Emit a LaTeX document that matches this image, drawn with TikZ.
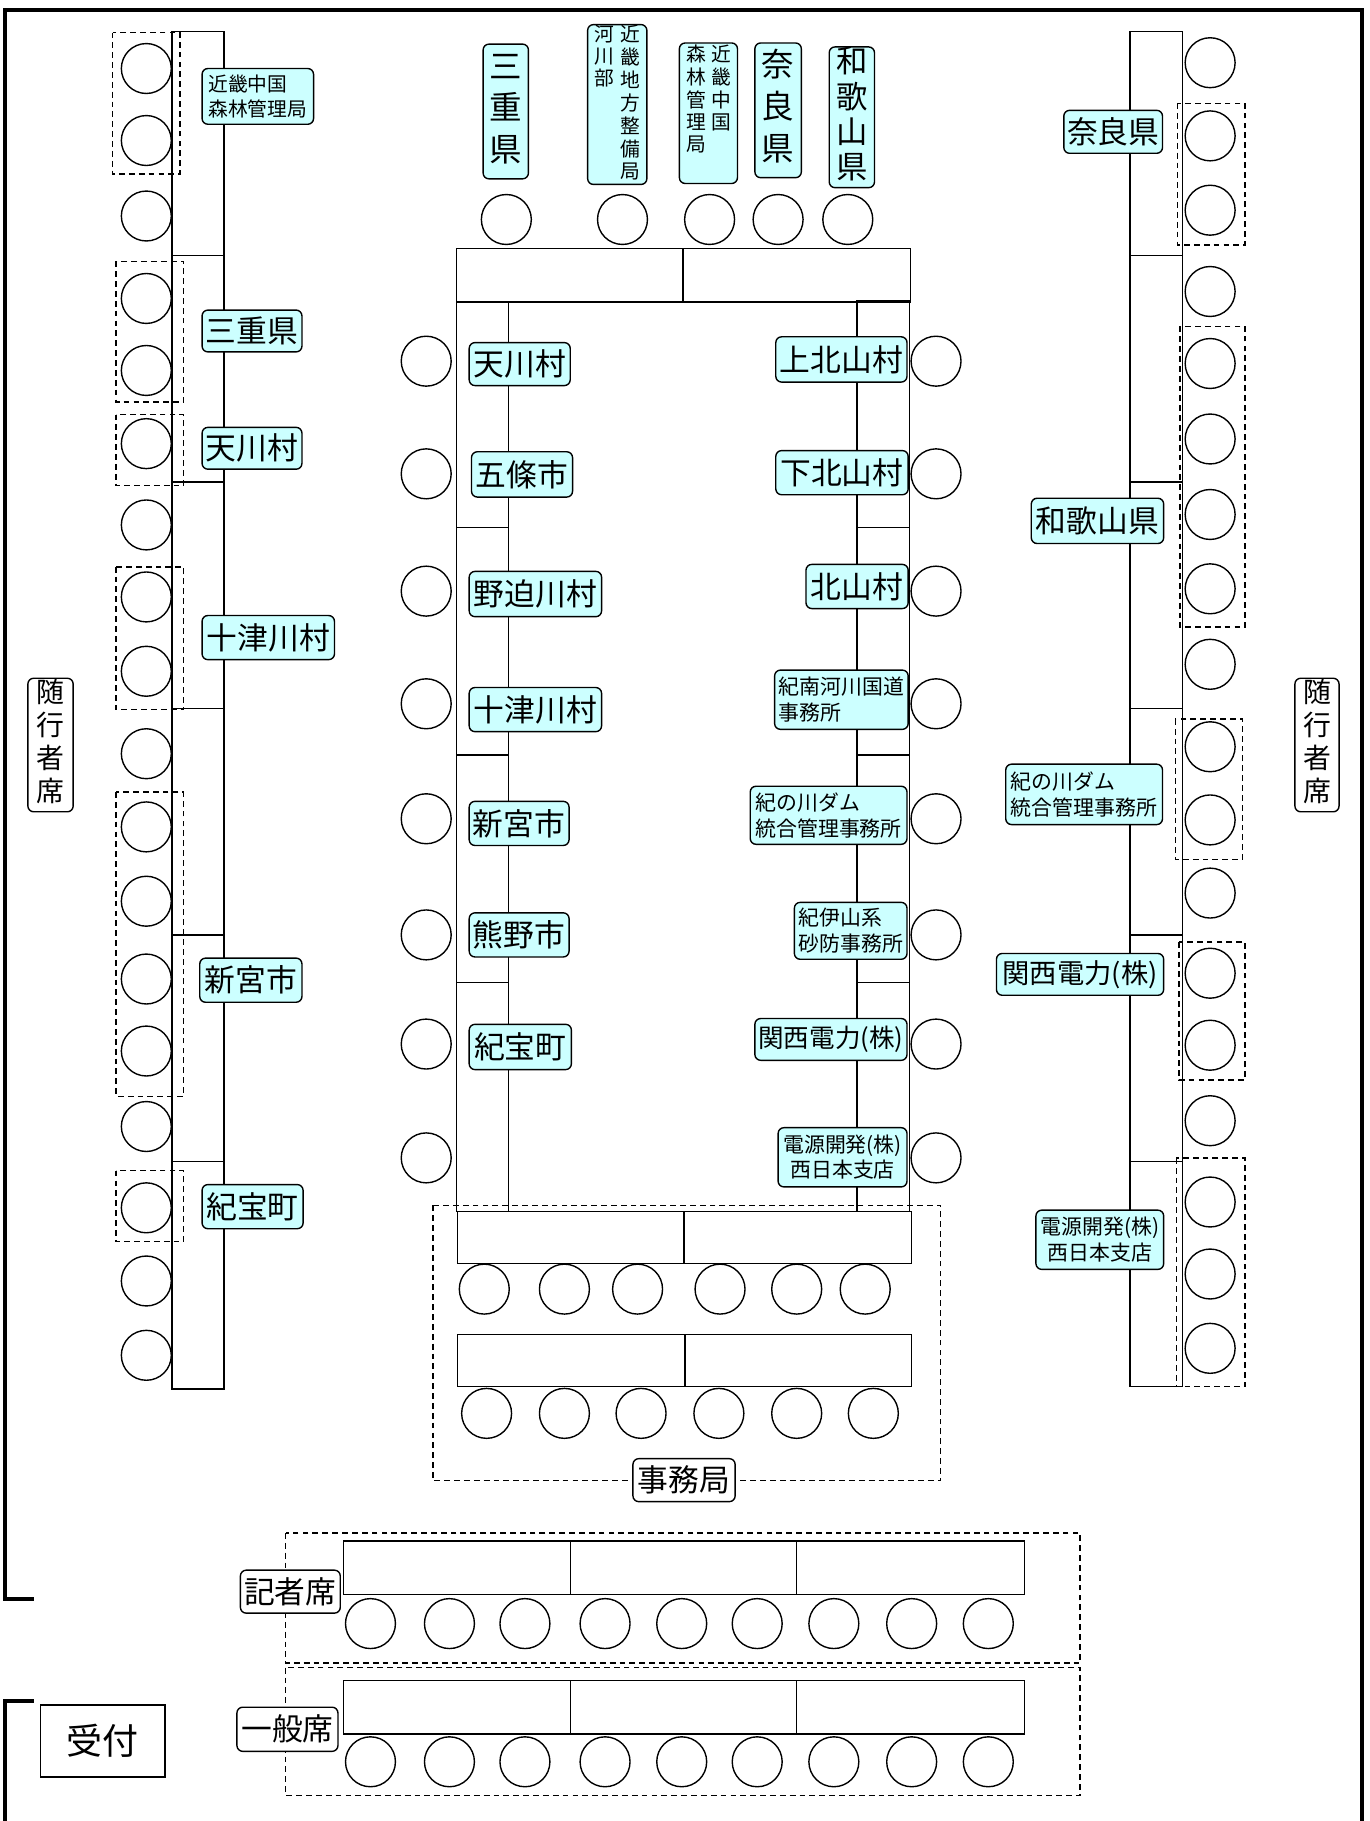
\documentclass[tikz,border=0pt]{standalone}
\usepackage{fontspec}
\newfontfamily\jp{Noto Sans CJK JP}
\definecolor{labfill}{HTML}{CCFFFF}
\newcommand\lb[7]{%
  \pgfmathsetmacro\lbW{#5-#3}\pgfmathsetmacro\lbH{#6-#4}%
  \pgfmathsetmacro\lbX{(#3+#5)/2}\pgfmathsetmacro\lbY{(#4+#6)/2}%
  \node[#1,minimum width=\lbW pt,minimum height=\lbH pt] (#2) at (\lbX,\lbY) {#7};}
\newcommand\vs[1]{\begin{tabular}[t]{@{}c@{}}#1\end{tabular}}
\begin{document}
\begin{tikzpicture}[x=1pt,y=-1pt,
  seat/.style={draw,circle,minimum size=43pt,inner sep=0pt,line width=1.2pt},
  tbl/.style={draw,line width=1.25pt},
  dbox/.style={draw,line width=1.3pt,dash pattern=on 5pt off 3.5pt},
  lab/.style={draw,rounded corners=5pt,fill=labfill,line width=1.2pt,inner sep=0pt,
    font=\jp\fontsize{26.5}{30}\selectfont},
  labs/.style={lab,align=left,font=\jp\fontsize{18}{22}\selectfont},
  labc/.style={lab,align=center,font=\jp\fontsize{18}{22}\selectfont},
  labm/.style={lab,font=\jp\fontsize{22}{26}\selectfont},
  vbig/.style={lab,font=\jp\fontsize{28}{36}\selectfont},
  vsm/.style={lab,font=\jp\fontsize{17}{18.4}\selectfont},
  wlab/.style={lab,fill=white},
  wv/.style={lab,fill=white,font=\jp\fontsize{24}{27}\selectfont},
  plain/.style={draw,line width=1.2pt,inner sep=0pt,fill=white,font=\jp\fontsize{31}{34}\selectfont}
]
\useasboundingbox (0,0) rectangle (1179,1568);

% outer walls
\draw[line width=3.5pt,line join=miter] (29,1377) -- (4.5,1377) -- (4.5,8.5) -- (1173,8.5) -- (1173,1580);
\draw[line width=3.5pt,line join=miter] (29,1465) -- (4.5,1465) -- (4.5,1580);

% dashed groups
\foreach \a/\b/\c/\d in {97/28/155/150,100/225/158/346,100/357/158/418,100/488/158/611,100/682/158/944,100/1008/158/1069,
  1014/89/1072/211,1016/281/1072/540,1012/619/1070/740,1015/811/1072/930,1013/997/1072/1194,
  373/1038/810/1275,246/1320/930/1432,246/1436/930/1546}
  \draw[dbox] (\a,\b) rectangle (\c,\d);

% side tables
\draw[tbl] (148,27) rectangle (193,1196);
\draw[tbl] (973,27) rectangle (1018,1194);
\foreach \yy in {220,415,610,805,1000} {
  \draw[tbl] (148,\yy) -- (193,\yy);
  \draw[tbl] (973,\yy) -- (1018,\yy);
}
% central tables
\draw[tbl] (393,214) rectangle (784,260);
\draw[tbl] (588,214) -- (588,260);
\draw[tbl] (393,260) rectangle (438,1043);
\draw[tbl] (738,259) rectangle (783,1043);
\foreach \yy in {454,650,846} {
  \draw[tbl] (393,\yy) -- (438,\yy);
  \draw[tbl] (738,\yy) -- (783,\yy);
}
\draw[tbl] (394,1043) rectangle (785,1088);
\draw[tbl] (589,1043) -- (589,1088);
\draw[tbl] (394,1149) rectangle (785,1194);
\draw[tbl] (590,1149) -- (590,1194);
% press / public tables
\draw[tbl] (296,1327) rectangle (882,1373);
\draw[tbl] (296,1447) rectangle (882,1493);
\foreach \xx in {491,686} {
  \draw[tbl] (\xx,1327) -- (\xx,1373);
  \draw[tbl] (\xx,1447) -- (\xx,1493);
}

% seats
\foreach \yy [count=\i] in {59,121,186,257,319,382,452,514,578,649,712,776,843,905,970,1040,1103,1167}
  \node[seat] (L\i) at (126,\yy) {};
\foreach \yy [count=\i] in {54,117,181,251,313,378,443,507,572,643,706,769,838,900,965,1035,1097,1161}
  \node[seat] (R\i) at (1042,\yy) {};
\foreach \xx [count=\i] in {436,536,611,670,730}
  \node[seat] (T\i) at (\xx,189) {};
\foreach \yy [count=\i] in {311,408,509,606,705,805,899,997} {
  \node[seat] (CL\i) at (367,\yy) {};
  \node[seat] (CR\i) at (806,\yy) {};
}
\foreach \xx [count=\i] in {417,486,549,620,686,745}
  \node[seat] (SA\i) at (\xx,1110) {};
\foreach \xx [count=\i] in {419,486,552,619,686,752}
  \node[seat] (SB\i) at (\xx,1217) {};
\foreach \xx [count=\i] in {319,387,452,521,587,652,718,785,851} {
  \node[seat] (PA\i) at (\xx,1398) {};
  \node[seat] (PB\i) at (\xx,1517) {};
}

% top labels (vertical)
\lb{vbig}{tMie}{416}{38}{455}{154}{\vs{三\\重\\県}}
\lb{vsm}{tKinki}{506}{22}{557}{158}{\vs{河\\川\\部}\hspace{6pt}\vs{近\\畿\\地\\方\\整\\備\\局}}
\lb{vsm}{tShin}{585}{37}{635}{158}{\vs{森\\林\\管\\理\\局\\[20pt]}\hspace{4.5pt}\vs{近\\畿\\中\\国}}
\lb{vbig}{tNara}{650}{37}{690}{153}{\vs{奈\\良\\県}}
\lb{lab,font=\jp\fontsize{27}{27}\selectfont}{tWaka}{714}{44}{753}{158}{\vs{和\\歌\\山\\県}}

% left side labels
\lb{labs,font=\jp\fontsize{17}{21}\selectfont}{lShin}{174}{59}{270}{107}{近畿中国\\森林管理局}
\lb{lab}{lMie}{174}{267}{260}{303}{三重県}
\lb{lab}{lTen}{174}{368}{260}{404}{天川村}
\lb{lab}{lTotsu}{174}{530}{288}{568}{十津川村}
\lb{lab}{lShingu}{172}{825}{260}{863}{新宮市}
\lb{lab}{lKiho}{174}{1020}{261}{1058}{紀宝町}

% central left labels
\lb{lab}{cTen}{404}{295}{491}{332}{天川村}
\lb{lab}{cGojo}{406}{389}{493}{428}{五條市}
\lb{lab}{cNose}{404}{492}{518}{531}{野迫川村}
\lb{lab}{cTotsu}{404}{592}{518}{630}{十津川村}
\lb{lab}{cShingu}{404}{690}{490}{728}{新宮市}
\lb{lab}{cKuma}{404}{786}{490}{824}{熊野市}
\lb{lab}{cKiho}{404}{882}{492}{921}{紀宝町}

% central right labels
\lb{lab}{cKami}{668}{290}{781}{329}{上北山村}
\lb{lab}{cShimo}{668}{388}{782}{426}{下北山村}
\lb{lab}{cKita}{694}{486}{782}{524}{北山村}
\lb{labs}{cKinan}{667}{577}{782}{628}{紀南河川国道\\事務所}
\lb{labs}{cDam}{646}{677}{781}{727}{紀の川ダム\\統合管理事務所}
\lb{labs}{cSabo}{684}{777}{781}{826}{紀伊山系\\砂防事務所}
\lb{labm}{cKan}{650}{877}{781}{913}{関西電力(株)}
\lb{labc}{cDen}{670}{971}{781}{1022}{電源開発(株)\\西日本支店}

% right side labels
\lb{lab}{rNara}{916}{95}{1001}{132}{奈良県}
\lb{lab}{rWaka}{888}{429}{1002}{468}{和歌山県}
\lb{labs}{rDam}{866}{658}{1001}{710}{紀の川ダム\\統合管理事務所}
\lb{lab,font=\jp\fontsize{23.5}{26}\selectfont}{rKan}{858}{821}{1002}{857}{関西電力(株)}
\lb{labc}{rDen}{892}{1042}{1002}{1093}{電源開発(株)\\西日本支店}

% white labels
\lb{wv}{zL}{24}{584}{63}{699}{\vs{随\\行\\者\\席}}
\lb{wv}{zR}{1115}{584}{1153}{699}{\vs{随\\行\\者\\席}}
\lb{wlab}{jimu}{545}{1256}{633}{1293}{事務局}
\lb{wlab}{kisha}{207}{1352}{293}{1389}{記者席}
\lb{wlab}{ippan}{204}{1470}{291}{1508}{一般席}
\lb{plain}{uketsuke}{35}{1468}{142}{1530}{受付}
\end{tikzpicture}
\end{document}
